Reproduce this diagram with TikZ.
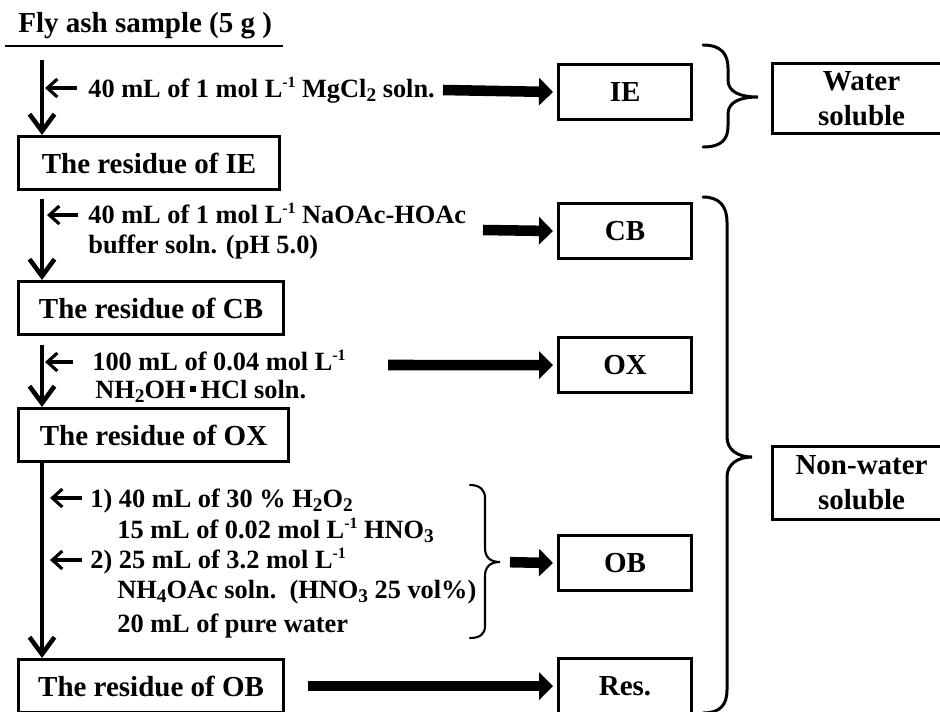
\documentclass[tikz,border=0pt]{standalone}
\usepackage{fontspec}
\setmainfont{Liberation Serif}
\usepackage{tikz}
\usetikzlibrary{arrows.meta}

\newcommand{\lblfont}{\fontsize{16.5}{20}\selectfont\bfseries}
\newcommand{\rgtfont}{\fontsize{15}{17}\selectfont\bfseries}
\newcommand{\dotsq}{\,\rule[0.22em]{0.24em}{0.24em}\,}
\newcommand{\sps}[1]{\raisebox{0.8ex}{\fontsize{9}{9}\selectfont #1}}
\newcommand{\sbs}[1]{\raisebox{-0.4ex}{\fontsize{11}{11}\selectfont #1}}

\tikzset{
  resbox/.style={draw, line width=1.8pt, anchor=north west, inner sep=0pt, minimum height=1.06cm, font=\lblfont},
  fracbox/.style={draw, line width=1.8pt, anchor=north west, inner sep=0pt, minimum width=2.66cm, minimum height=1.1cm, font=\lblfont},
  groupbox/.style={draw, line width=1.8pt, anchor=north west, inner sep=0pt, minimum width=3.56cm, align=center, font=\lblfont},
  reagent/.style={anchor=base west, inner sep=0pt, font=\rgtfont},
  shaft/.style={line width=2.6pt, -{Straight Barb[length=0.34cm,width=0.5cm]}},
  feed/.style={line width=1.8pt, -{Straight Barb[length=0.2cm,width=0.36cm]}},
  fat/.style={line width=6pt, -{Triangle[length=0.28cm,width=0.54cm]}, shorten >=0.08cm},
  brace/.style={line width=1.7pt, line cap=round}
}

\begin{document}
\begin{tikzpicture}[x=0.02cm,y=-0.02cm]
\useasboundingbox (0,0) rectangle (940,711);
\clip (0,0) rectangle (940,711);

\node[anchor=base west, inner sep=0pt, font=\lblfont] (sample) at (18,32) {Fly ash sample (5 g )};
\draw[line width=1.6pt] (5,46) -- (283,46);

\foreach \name/\y/\w in {IE/135/5.22, CB/280/5.3, OX/407/5.4, OB/658/5.3} {
    \node[resbox, minimum width=\w cm] (r\name) at (17,\y) {The residue of \name};
}

\foreach \name/\y/\lbl in {IE/63/IE, CB/202/CB, OX/336/OX, OB/534/OB, Res/657/Res.} {
    \node[fracbox] (\name) at (557,\y) {\lbl};
}

\node[groupbox, minimum height=1.4cm] (water) at (771,62) {Water\\soluble};
\node[groupbox, minimum height=1.46cm] (nonwater) at (771,445) {Non-water\\soluble};

\node[reagent] (ie1) at (88,97) {40 mL of 1 mol L\sps{-1} MgCl\sbs{2} soln.};
\node[reagent] (cb1) at (88,223) {40 mL of 1 mol L\sps{-1} NaOAc-HOAc};
\node[reagent] (cb2) at (88,253) {buffer soln. (pH 5.0)};
\node[reagent] (ox1) at (92,370) {100 mL of 0.04 mol L\sps{-1}};
\node[reagent] (ox2) at (95,398) {NH\sbs{2}OH\dotsq HCl soln.};
\node[reagent] (ob1) at (90,507) {1) 40 mL of 30 \% H\sbs{2}O\sbs{2}};
\node[reagent] (ob2) at (117,538) {15 mL of 0.02 mol L\sps{-1} HNO\sbs{3}};
\node[reagent] (ob3) at (90,568) {2) 25 mL of 3.2 mol L\sps{-1}};
\node[reagent] (ob4) at (117,598) {NH\sbs{4}OAc soln.\ \ (HNO\sbs{3} 25 vol\%)};
\node[reagent] (ob5) at (117,632) {20 mL of pure water};

\coordinate (start) at (42,60);
\draw[shaft] (start) -- (start |- rIE.north);
\foreach \a/\b/\s in {rIE/rCB/-0.16cm, rCB/rOX/-0.18cm, rOX/rOB/0cm} {
    \draw[shaft] ([xshift=0.5cm,yshift=\s]\a.south west) -- ([xshift=0.5cm]\b.north west);
}

\foreach \i/\y/\t/\h in {1/88/77/45, 2/215/78/47, 3/362/73/45, 4/498/82/50, 5/560/82/50} {
    \coordinate (from\i) at (\t,\y);
    \coordinate (in\i) at (\h,\y);
    \draw[feed] (from\i) -- (in\i);
}

\coordinate (tipOB) at (500,562);
\foreach \name/\x/\y in {IE/443/90, CB/483/230, OX/388/365} {
    \coordinate (go\name) at (\x,\y);
    \draw[fat] (go\name) -- (\name.west);
}
\draw[fat, shorten <=0.2cm] (tipOB) -- (OB.west);
\draw[fat, shorten <=0.46cm] (rOB.east) -- (Res.west);

\draw[brace] (703,45) .. controls (722,45) and (728,55) .. (728,68) -- (728,80)
    .. controls (728,92) and (740,97) .. (758,97)
    .. controls (740,97) and (728,102) .. (728,114) -- (728,126)
    .. controls (728,139) and (722,147) .. (703,147);
\draw[brace] (703,197) .. controls (720,197) and (727,207) .. (727,222) -- (727,437)
    .. controls (727,450) and (738,457) .. (752,457)
    .. controls (738,457) and (727,464) .. (727,477) -- (727,690)
    .. controls (727,705) and (720,713) .. (703,713);
\draw[brace, line width=1.2pt] (470,485) .. controls (480,485) and (485,490) .. (485,498) -- (485,548)
    .. controls (485,557) and (490,562) .. (tipOB)
    .. controls (490,562) and (485,567) .. (485,576) -- (485,626)
    .. controls (485,634) and (480,638) .. (470,638);
\end{tikzpicture}
\end{document}
